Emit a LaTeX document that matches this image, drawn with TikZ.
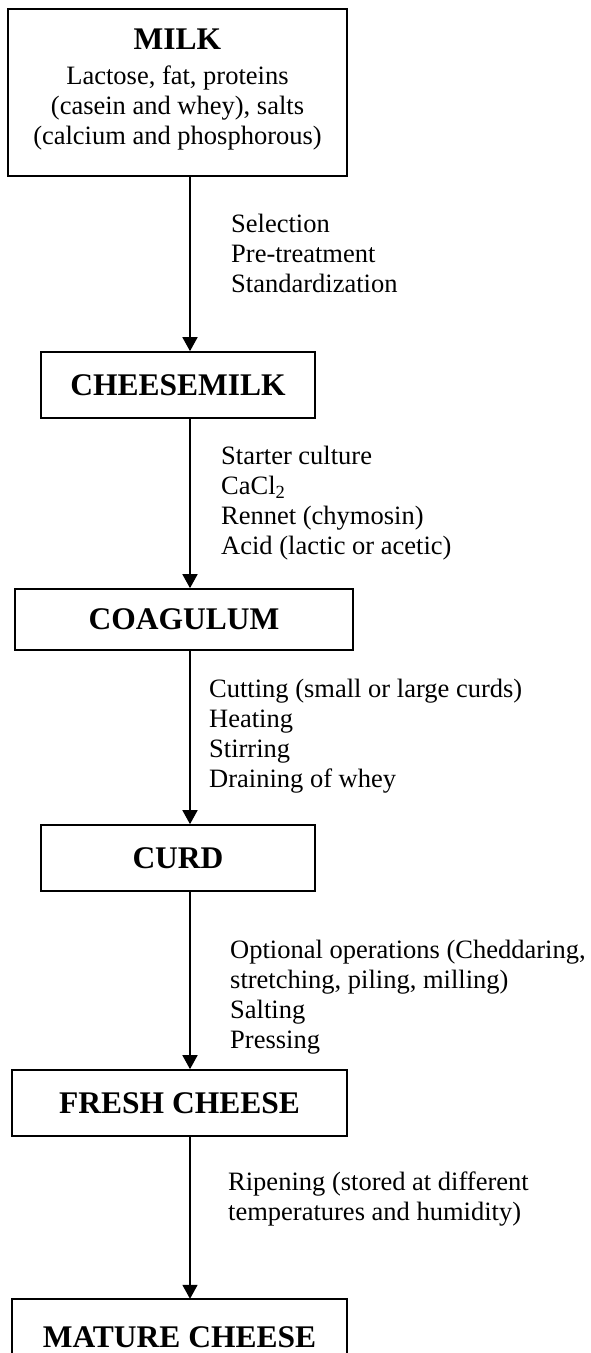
\documentclass[tikz,border=0pt]{standalone}
\usepackage{fontspec}
\setmainfont{Liberation Serif}
\usetikzlibrary{arrows.meta}
\begin{document}
\begin{tikzpicture}[x=1pt,y=-1pt,
  box/.style={draw, line width=1.7pt, inner sep=0pt, align=center},
  ttl/.style={font=\fontsize{31.5}{36}\selectfont\bfseries},
  lbl/.style={anchor=west, inner sep=0pt, align=left, font=\fontsize{26.5}{30}\selectfont},
  flow/.style={line width=1.7pt, -{Triangle[length=14pt,width=15pt]}}]
\useasboundingbox (0,0) rectangle (590,1353);
\fill[white] (0,0) rectangle (590,1353);
\coordinate (ax) at (190,0);
\begin{scope}
\clip (0,0) rectangle (590,1353);
% boxes
\node[box, minimum width=339pt, minimum height=167pt, font=\fontsize{26.5}{30}\selectfont] (milk) at (177.5,92.5)
  {{\fontsize{31.5}{36}\selectfont\bfseries MILK}\\[5pt]Lactose, fat, proteins\\(casein and whey), salts\\(calcium and phosphorous)\rule[-12pt]{0pt}{12pt}};
\node[box, ttl, minimum width=274pt, minimum height=66pt] (cheesemilk) at (178,385) {CHEESEMILK};
\node[box, ttl, minimum width=338pt, minimum height=61pt] (coagulum) at (184,619.5) {COAGULUM};
\node[box, ttl, minimum width=274pt, minimum height=66pt] (curd) at (178,858) {CURD};
\node[box, ttl, minimum width=335pt, minimum height=66pt] (fresh) at (179.5,1103) {FRESH CHEESE};
\node[ttl, inner sep=0pt, minimum width=335pt, minimum height=76pt] (mature) at (179.5,1337) {MATURE CHEESE};
\draw[line width=1.7pt] (mature.south west) -- (mature.north west) -- (mature.north east) -- (mature.south east);
% connectors
\draw[flow] (milk.south -| ax) -- (cheesemilk.north -| ax);
\draw[flow] (cheesemilk.south -| ax) -- (coagulum.north -| ax);
\draw[flow] (coagulum.south -| ax) -- (curd.north -| ax);
\draw[flow] (curd.south -| ax) -- (fresh.north -| ax);
\draw[flow] (fresh.south -| ax) -- (mature.north -| ax);
% labels
\node[lbl] (l1) at (231,253) {Selection\\Pre-treatment\\Standardization};
\node[lbl] (l2) at (221,503) {Starter culture\\CaCl\textsubscript{2}\\Rennet (chymosin)\\Acid (lactic or acetic)};
\node[lbl] (l3) at (209,736) {Cutting (small or large curds)\\Heating\\Stirring\\Draining of whey};
\node[lbl] (l4) at (230,997) {Optional operations (Cheddaring,\\stretching, piling, milling)\\Salting\\Pressing};
\node[lbl] (l5) at (228,1199) {Ripening (stored at different\\temperatures and humidity)};
\end{scope}
\end{tikzpicture}
\end{document}
